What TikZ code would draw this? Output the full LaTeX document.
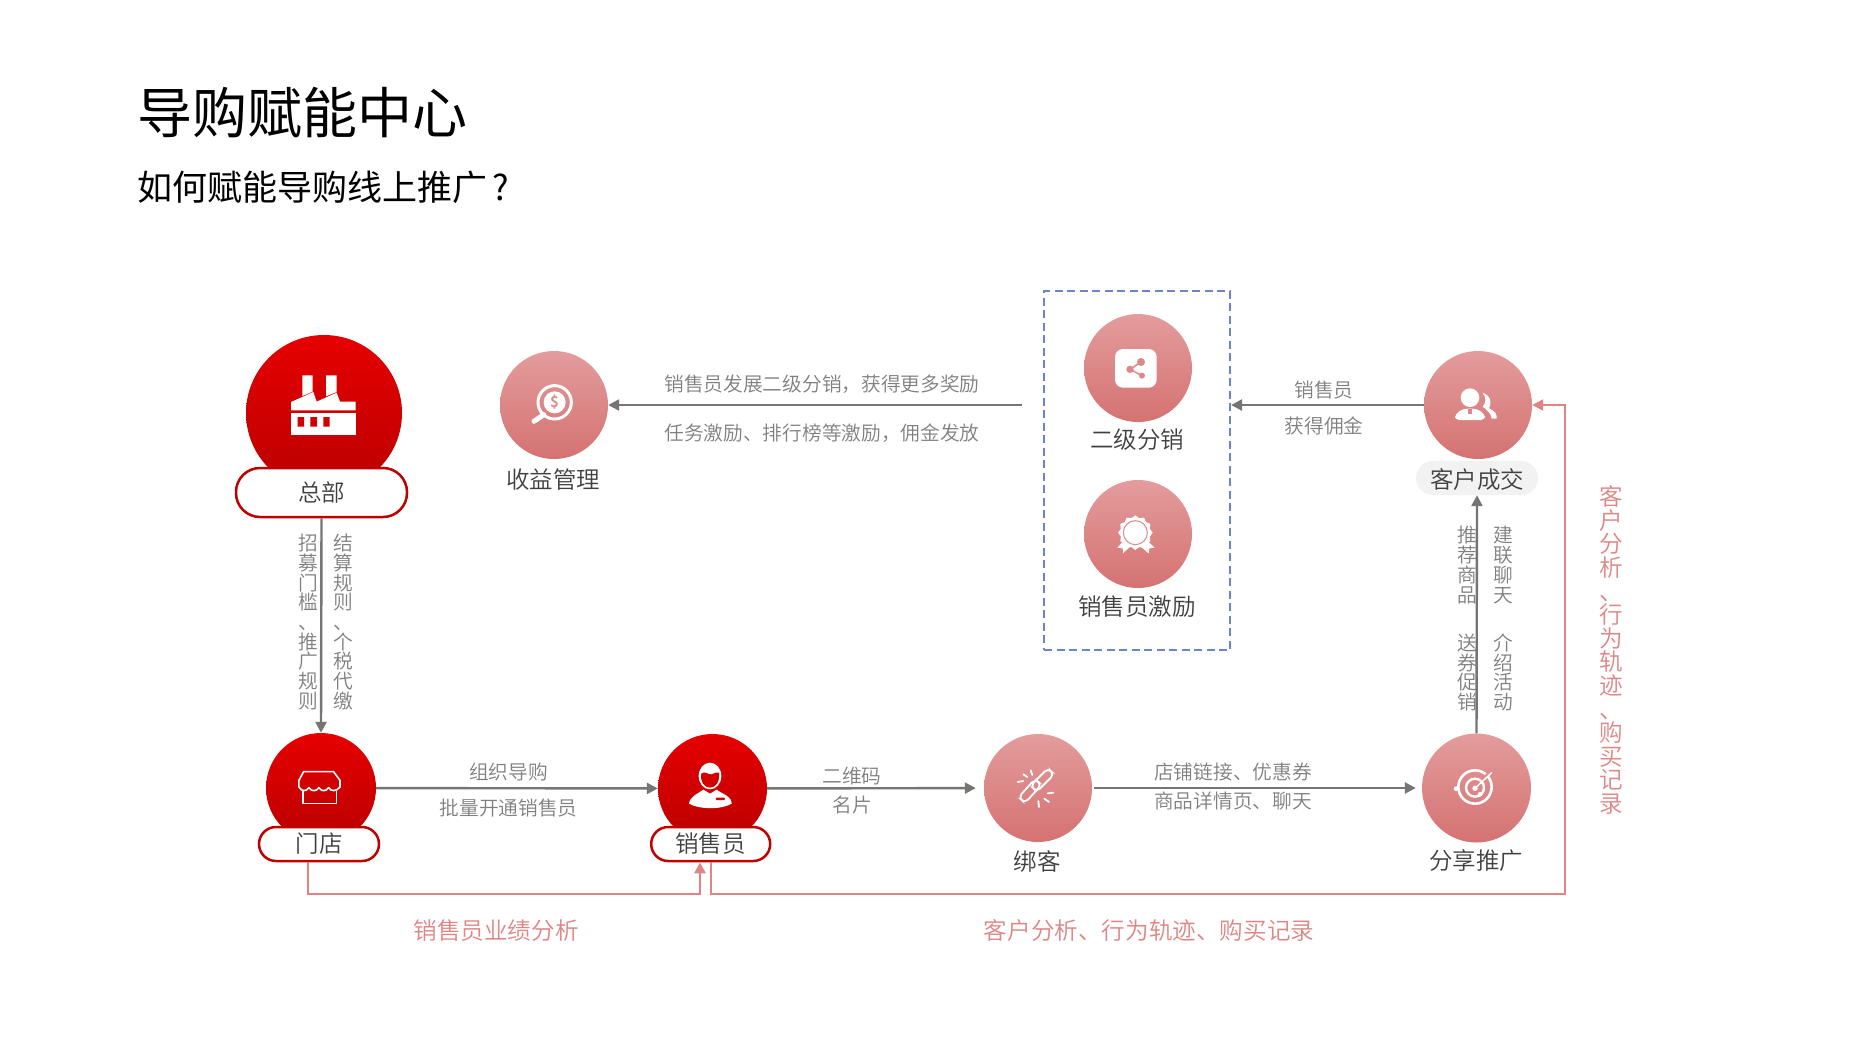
\documentclass[tikz,border=0pt]{standalone}
\usepackage{fontspec}
\IfFontExistsTF{Noto Sans CJK SC DemiLight}{\setmainfont{Noto Sans CJK SC DemiLight}}{\setmainfont{Noto Sans CJK SC}}
\newfontfamily\titlefont{Noto Sans CJK SC}
\usetikzlibrary{arrows.meta}
\definecolor{redT}{HTML}{E60000}
\definecolor{redB}{HTML}{BA0000}
\definecolor{pinkT}{HTML}{E39C9C}
\definecolor{pinkB}{HTML}{D57272}
\definecolor{pinkL}{HTML}{E08585}
\definecolor{pinkM}{HTML}{DE8888}
\definecolor{grayL}{HTML}{777474}
\definecolor{grayT}{HTML}{7F7F7F}
\definecolor{darkT}{HTML}{404040}
\definecolor{pillR}{HTML}{C00000}
\definecolor{boxB}{HTML}{6C84C8}
\definecolor{paleP}{HTML}{F2F2F2}
\newcommand{\fs}[1]{\fontsize{#1}{#1}\selectfont}
\tikzset{
  x=1pt,y=-1pt,
  redc/.style={circle,inner sep=0pt,minimum size=#1,shading=axis,top color=redT,bottom color=redB},
  pinkc/.style={circle,inner sep=0pt,minimum size=#1,shading=axis,top color=pinkT,bottom color=pinkB},
  pillbox/.style={draw=pillR,line width=2.5pt,fill=white,rectangle,inner sep=0pt,text=darkT,font=\fs{23.5}},
  dark/.style={inner sep=0pt,text=darkT,font=\fs{23.5}},
  glab/.style={inner sep=0pt,text=grayT,font=\fs{19.7}},
  plab/.style={inner sep=0pt,text=pinkL,font=\fs{23.6}},
  gvert/.style={inner sep=0pt,text=grayT,align=center,font=\fontsize{19.7}{19.7}\selectfont},
  pvert/.style={inner sep=0pt,text=pinkL,align=center,font=\fontsize{23.6}{23.6}\selectfont},
  conn/.style={draw=grayL,line width=2.4pt,-{Triangle[length=11pt,width=11pt]}},
  pconn/.style={draw=pinkL,line width=2.4pt,-{Triangle[length=11pt,width=11pt]}},
  ico/.style={x=0.33333pt,y=-0.33333pt},
  icoW/.style={x=0.35714pt,y=-0.33333pt},
}
\begin{document}
\begin{tikzpicture}
\path[use as bounding box,fill=white] (0,-1) rectangle (1876,1049);
% titles
\node[anchor=west,inner sep=0pt,text=black,font=\titlefont\fs{55}] (title) at (137,112) {导购赋能中心};
\node[anchor=west,inner sep=0pt,text=black,font=\titlefont\fs{35}] (subtitle) at (137,186) {如何赋能导购线上推广\hspace{5pt}?};
% circles
\node[redc=156pt] (hq) at (324,412) {};
\node[pillbox,minimum width=171pt,minimum height=49pt,rounded corners=24pt] (hqpill) at (321.5,491.5) {\raisebox{-1.5pt}{总部}};
\node[redc=110pt] (store) at (321,787) {};
\node[pillbox,minimum width=120pt,minimum height=34pt,rounded corners=17pt] (storepill) at (319,843) {\raisebox{-1.5pt}{门店}};
\node[redc=109pt] (sales) at (712.5,787.5) {};
\node[pillbox,minimum width=119pt,minimum height=34pt,rounded corners=17pt] (salespill) at (710.7,843) {\raisebox{-1.5pt}{销售员}};
\node[pinkc=108pt] (earn) at (554,404) {};
\node[pinkc=108pt] (second) at (1138,367) {};
\node[pinkc=108pt] (incent) at (1138,533) {};
\node[pinkc=108pt] (deal) at (1478,404) {};
\node[pinkc=108pt] (bind) at (1038,787) {};
\node[pinkc=109pt] (share) at (1476.5,787) {};
\node[draw=boxB,line width=2.2pt,dash pattern=on 8pt off 4.5pt,rectangle,inner sep=0pt,minimum width=186pt,minimum height=359pt] (box) at (1137,469.5) {};
\node[rectangle,rounded corners=17pt,fill=paleP,inner sep=0pt,minimum width=122pt,minimum height=34pt] (dealpill) at (1477,477) {};
% dark labels
\node[dark] (earnT) at (553,478.5) {收益管理};
\node[dark] (secondT) at (1137,439) {二级分销};
\node[dark] (incentT) at (1137,606) {销售员激励};
\node[dark] (dealT) at (1477,479) {客户成交};
\node[dark] (bindT) at (1037,860) {绑客};
\node[dark] (shareT) at (1476,860) {分享推广};
% grey labels
\node[glab] (l1) at (822,383) {销售员发展二级分销，获得更多奖励};
\node[glab] (l2) at (822,432) {任务激励、排行榜等激励，佣金发放};
\node[glab] (l3) at (1324,389) {销售员};
\node[glab] (l4) at (1324,425) {获得佣金};
\node[glab] (l5) at (508.6,771) {组织导购};
\node[glab] (l6) at (508.6,807) {批量开通销售员};
\node[glab] (l7) at (852,775) {二维码};
\node[glab] (l8) at (852,804) {名片};
\node[glab] (l9) at (1233,771.5) {店铺链接、优惠券};
\node[glab] (l10) at (1233,800) {商品详情页、聊天};
\node[gvert] (v1) at (308,621) {招\\募\\门\\槛\\、\\推\\广\\规\\则};
\node[gvert] (v2) at (343.5,621) {结\\算\\规\\则\\、\\个\\税\\代\\缴};
\node[gvert] (v3a) at (1467,564) {推\\荐\\商\\品};
\node[gvert] (v3b) at (1467,671.5) {送\\券\\促\\销};
\node[gvert] (v4a) at (1503,564) {建\\联\\聊\\天};
\node[gvert] (v4b) at (1503,671.5) {介\\绍\\活\\动};
% pink labels
\node[plab] (p1) at (496,929.5) {销售员业绩分析};
\node[plab] (p2) at (1149,929) {客户分析、行为轨迹、购买记录};
\node[pvert] (p3) at (1611,649) {客\\户\\分\\析\\、\\行\\为\\轨\\迹\\、\\购\\买\\记\\录};
% connectors
\draw[conn] (hqpill.south) -- (store.north);
\draw[conn] (store) -- (sales);
\draw[conn,shorten >=8pt] (sales) -- (bind);
\draw[conn,shorten <=2pt,shorten >=6pt] (bind) -- (share);
\draw[conn] (share.north) -- (dealpill.south);
\draw[conn] (deal) -- (deal -| box.east);
\draw[conn,shorten <=21pt] (earn -| box.west) -- (earn);
\coordinate (c1) at (700,893);
\coordinate (c2) at (1565,893);
\coordinate (c3) at (1565,404);
\draw[pconn] ([xshift=-11pt]storepill.south) |- (c1) -- (c1 |- salespill.south);
\draw[pconn] (salespill.south) |- (c2) -- (c3) -- (deal.east);
% factory icon
\begin{scope}[shift={(220,320)},ico]
\fill[white] (247,163) -- (278,163) -- (278,212) -- (247,225) -- cycle;
\fill[white] (318,163) -- (350,163) -- (350,213) -- (318,226) -- cycle;
\fill[white] (213,243) -- (280,213) -- (290,242) -- (350,215) -- (360,242) -- (407,242) -- (407,268) -- (213,268) -- cycle;
\fill[white] (213,275) rectangle (407,341);
\fill[redB!50!redT] (233,288) rectangle (252,317) (271,288) rectangle (291,317) (310,288) rectangle (329,317);
\end{scope}
% store icon
\begin{scope}[shift={(240,720)},icoW,draw=white,line width=1.6pt,line join=round]
\draw (178,152) -- (262,152) -- (280,178) -- (280,198) .. controls (270,212) and (255,212) .. (248,200) .. controls (240,212) and (228,212) .. (221,200) .. controls (214,212) and (200,212) .. (193,200) .. controls (186,212) and (172,212) .. (165,198) -- (165,178) -- cycle;
\draw (177,210) -- (177,248) -- (270,248) -- (270,210);
\end{scope}
% person icon
\begin{scope}[shift={(680,750)},ico]
\fill[white] (90,75) ellipse [x radius=34,y radius=40];
\fill[redB!40!redT] (64,68) .. controls (75,58) and (85,72) .. (95,70) .. controls (105,68) and (110,60) .. (117,65) .. controls (120,95) and (105,110) .. (90,110) .. controls (72,110) and (60,92) .. (64,68);
\fill[white] (27,158) .. controls (30,135) and (55,128) .. (70,116) -- (90,128) -- (110,116) .. controls (125,128) and (155,135) .. (155,158) .. controls (125,176) and (60,176) .. (27,158);
\fill[redB!50!redT,rounded corners=1pt] (107,140) rectangle (135,147);
\end{scope}
% magnifier icon
\begin{scope}[shift={(480,340)},ico]
\draw[white,line width=3pt] (224,184) circle [radius=50];
\fill[white] (224,184) circle [radius=33];
\draw[white,line width=5pt,line cap=round] (191,221) -- (162,241);
\node[inner sep=0pt,text=pinkM,font=\fs{15}\bfseries] (dollar) at (224,184) {\$};
\end{scope}
% share icon
\begin{scope}[shift={(1030,280)},ico]
\fill[white,rounded corners=8pt] (255,204) rectangle (380,320);
\draw[pinkM,line width=1.5pt] (333,243) -- (300,265) -- (336,284);
\fill[pinkM] (333,243) circle [radius=12] (300,265) circle [radius=11] (336,284) circle [radius=9];
\end{scope}
% award icon
\begin{scope}[shift={(1030,280)},ico]
\fill[white] (285,775) -- (262,800) -- (278,802) -- (279,817) -- (302,795) -- cycle;
\fill[white] (347,775) -- (374,800) -- (358,802) -- (356,817) -- (330,795) -- cycle;
\fill[white] (316,703)
  \foreach \a in {15,30,...,345} {
    -- ({316+(mod(\a,30)==0?52:45)*sin(\a)},{755-(mod(\a,30)==0?52:45)*cos(\a)})
  } -- cycle;
\draw[pinkM,line width=1pt] (316,755) circle [radius=36];
\end{scope}
% chain icon
\begin{scope}[shift={(1000,750)},ico,draw=white,line width=1.8pt,line cap=round]
\begin{scope}[shift={(127,87)},rotate=45]
\draw[rounded corners=4.5pt] (-37,-13) rectangle (37,13);
\end{scope}
\begin{scope}[shift={(90,120)},rotate=48]
\draw[rounded corners=4.5pt] (-37,-13) rectangle (37,13);
\end{scope}
\draw (70,70) -- (82,78) (92,58) -- (97,72) (53,93) -- (70,90);
\draw (143,127) -- (160,125) (133,143) -- (147,153) (115,150) -- (117,168);
\end{scope}
% target icon
\begin{scope}[shift={(1440,750)},ico,draw=white]
\draw[line width=2.6pt] (105,108) circle [radius=50];
\draw[line width=2.4pt] (105,110) circle [radius=27];
\draw[pinkM,line width=3pt] (130,84) -- (148,66);
\draw[line width=1.5pt] (105,112) -- (155,65);
\fill[white] (105,112) circle [radius=8] (48,113) circle [radius=7] (120,130) circle [radius=7];
\end{scope}
% customers icon
\begin{scope}[shift={(1440,375)},ico]
\fill[white] (128,50) .. controls (155,60) and (155,85) .. (147,97) .. controls (165,105) and (172,115) .. (170,128) -- (155,128) .. controls (155,115) and (140,100) .. (128,92) .. controls (138,80) and (140,65) .. (128,50);
\fill[white] (90,65) circle [radius=28];
\fill[white,rounded corners=4pt] (45,132) -- (45,115) -- (70,98) -- (110,98) -- (135,115) -- (135,132) -- cycle;
\fill[pinkM] (85,100) rectangle (96,115);
\end{scope}
\end{tikzpicture}
\end{document}
